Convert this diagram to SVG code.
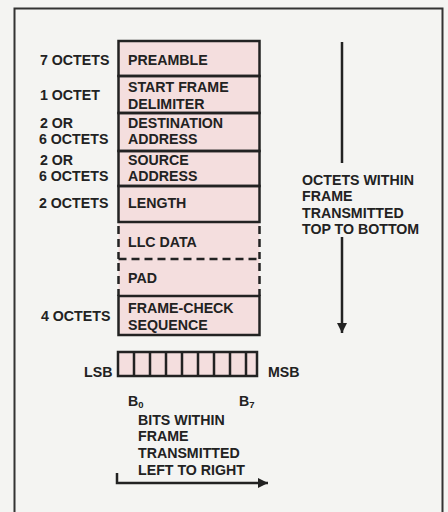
<svg xmlns="http://www.w3.org/2000/svg" width="448" height="512" viewBox="0 0 448 512">
<style>
text{font-family:"Liberation Sans",Arial,sans-serif;font-weight:bold;font-size:14.2px;fill:#222}
.f{fill:#f4dede;stroke:none}
.s{stroke:#222;stroke-width:2.5;fill:none}
.d{stroke:#222;stroke-width:2.5;fill:none;stroke-dasharray:8 5}
.sub{font-size:9.5px}
</style>
<defs>
<marker id="ah2" viewBox="0 0 10 10" refX="10" refY="5" markerWidth="14" markerHeight="10" markerUnits="userSpaceOnUse" orient="auto">
<path d="M0,0 L10,5 L0,10 z" fill="#222"/>
</marker>
</defs>
<rect width="448" height="512" fill="#f4f4f2"/>
<path d="M14.5,512 V8.5 H442.5 V512" fill="none" stroke="#333" stroke-width="2"/>

<g id="labels-left">
<text x="40" y="65">7 OCTETS</text>
<text x="40" y="100">1 OCTET</text>
<text x="40" y="128">2 OR</text>
<text x="39" y="144">6 OCTETS</text>
<text x="40" y="164.5">2 OR</text>
<text x="39" y="181">6 OCTETS</text>
<text x="39" y="208">2 OCTETS</text>
<text x="41" y="321">4 OCTETS</text>
</g>

<g id="frame">
<rect class="f" x="118.5" y="41" width="141" height="294"/>
<g id="preamble"><rect class="s" x="118.5" y="41" width="141" height="35"/><text x="128" y="65">PREAMBLE</text></g>
<g id="sfd"><rect class="s" x="118.5" y="76" width="141" height="37"/><text x="128" y="92">START FRAME</text><text x="128" y="109">DELIMITER</text></g>
<g id="da"><rect class="s" x="118.5" y="113" width="141" height="38"/><text x="128" y="128">DESTINATION</text><text x="128" y="144">ADDRESS</text></g>
<g id="sa"><rect class="s" x="118.5" y="151" width="141" height="35"/><text x="128" y="164.5">SOURCE</text><text x="128" y="181">ADDRESS</text></g>
<g id="length"><rect class="s" x="118.5" y="186" width="141" height="36"/><text x="128" y="208">LENGTH</text></g>
<g id="llc"><path class="d" d="M118.5,226 V259 M259.5,226 V259"/><text x="128" y="247">LLC DATA</text></g>
<g id="pad"><path class="d" d="M118.5,259 H259.5 M118.5,263 V296 M259.5,263 V296"/><text x="128" y="283">PAD</text></g>
<g id="fcs"><rect class="s" x="118.5" y="296" width="141" height="39"/><text x="128" y="313">FRAME-CHECK</text><text x="128" y="329.5">SEQUENCE</text></g>
</g>

<g id="byte">
<rect class="f" x="118" y="352" width="139" height="24"/>
<rect class="s" x="118" y="352" width="139" height="24"/>
<path class="s" d="M134,352V376M150,352V376M166,352V376M182,352V376M198,352V376M214,352V376M230,352V376M246,352V376"/>
<text x="84" y="377">LSB</text>
<text x="268" y="377">MSB</text>
<text x="128" y="406">B<tspan class="sub" dy="2">0</tspan></text>
<text x="239" y="406">B<tspan class="sub" dy="2">7</tspan></text>
</g>

<g id="connectors">
<path d="M342,42 V163" stroke="#222" stroke-width="2.5" fill="none"/>
<path d="M342,237 V333" stroke="#222" stroke-width="2.5" fill="none" marker-end="url(#ah2)"/>
<path d="M117,473 V483 H268" stroke="#222" stroke-width="2.5" fill="none" marker-end="url(#ah2)"/>
</g>

<g id="note-octets">
<text x="302" y="185">OCTETS WITHIN</text>
<text x="302" y="201">FRAME</text>
<text x="302" y="218">TRANSMITTED</text>
<text x="302" y="234">TOP TO BOTTOM</text>
</g>
<g id="note-bits">
<text x="138" y="425">BITS WITHIN</text>
<text x="138" y="441">FRAME</text>
<text x="138" y="458">TRANSMITTED</text>
<text x="138" y="475">LEFT TO RIGHT</text>
</g>
</svg>
